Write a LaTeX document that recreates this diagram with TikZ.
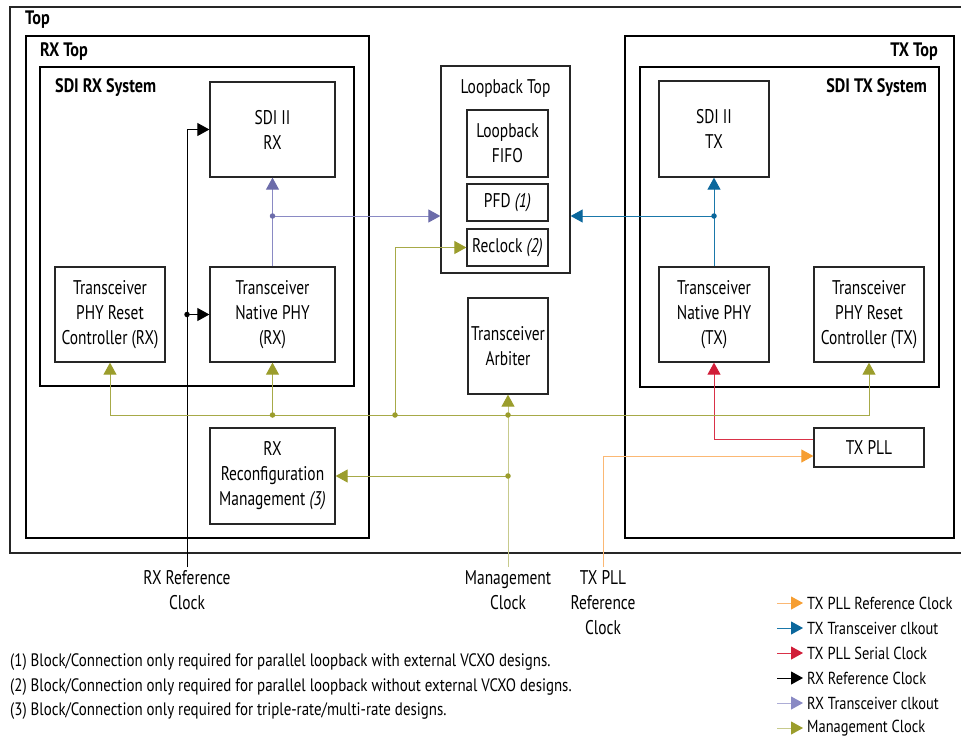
\documentclass[tikz,border=0pt]{standalone}
\usepackage{fontspec}
\setmainfont{PT Sans}[FakeStretch=0.83]
\newfontfamily\narrowfont{PT Sans}[FakeStretch=0.78]
\usetikzlibrary{arrows.meta}

\definecolor{boxline}{HTML}{262626}
\definecolor{puL}{HTML}{8A8AC4}
\definecolor{puH}{HTML}{6C6CAA}
\definecolor{blL}{HTML}{1A78AA}
\definecolor{blH}{HTML}{0B679C}
\definecolor{rdL}{HTML}{D93148}
\definecolor{rdH}{HTML}{D11D38}
\definecolor{orL}{HTML}{FBB874}
\definecolor{orH}{HTML}{F69E32}
\definecolor{olL}{HTML}{A7AA48}
\definecolor{olP}{HTML}{C7CA8C}
\definecolor{olH}{HTML}{9B9D2C}

\newcommand\dfont{\narrowfont\fontsize{19.8}{25}\selectfont}
\newcommand\nfont{\fontsize{18}{25}\selectfont}
\newcommand\lfont{\fontsize{17.4}{25}\selectfont}
\newcommand\tfont{\fontsize{19.5}{25}\selectfont\bfseries}

\tikzset{
  container/.style={draw=black, line width=1.2pt, inner sep=0pt, minimum width=#1},
  block/.style={draw=boxline, line width=1.3pt, fill=white, inner sep=0pt, align=center, font=\dfont},
  title/.style={font=\tfont, inner sep=0pt},
  txt/.style={font=\dfont, inner sep=0pt, align=center},
  note/.style={font=\nfont, inner sep=0pt, anchor=west},
  legendtxt/.style={font=\lfont, inner sep=0pt, anchor=west},
  extlabel/.style={font=\dfont, inner xsep=0pt, inner ysep=3pt, align=center, anchor=north},
  conn/.style={line width=1pt},
  head/.style={-{Triangle[length=12pt,width=13pt,color=#1]}},
  twoheads/.style={{Triangle[length=12pt,width=13pt,color=#1]}-{Triangle[length=12pt,width=13pt,color=#1]}},
  purple/.style={conn, draw=puL, head=puH},
  blue/.style={conn, draw=blL, head=blH},
  red/.style={conn, draw=rdL, head=rdH},
  orange/.style={conn, draw=orL, head=orH},
  olive/.style={conn, draw=olL, head=olH},
  olivepale/.style={conn, draw=olP, head=olH},
  blackclk/.style={conn, draw=black, head=black},
  dot/.style={circle, fill=#1, inner sep=0pt, minimum size=5.5pt},
}

\begin{document}
\begin{tikzpicture}[x=1pt, y=-1pt]
\useasboundingbox (0,0) rectangle (961,742);

% outermost frame (open to the right)
\draw[line width=1.2pt, boxline] (961,7) -- (10,7) -- (10,553) -- (961,553);
\node[title, anchor=west] (toplbl) at (25,20) {Top};

% receive side containers
\node[container=343pt, minimum height=502pt] (rxtop) at (197.5,287) {};
\node[title, anchor=west] (rxtoplbl) at (40,52) {RX Top};
\node[container=314pt, minimum height=319pt] (rxsys) at (197,226.5) {};
\node[title, anchor=west] (rxsyslbl) at (55,88) {SDI RX System};

% transmit side containers
\node[container=329pt, minimum height=502pt] (txtop) at (789.5,287) {};
\node[title, anchor=east] (txtoplbl) at (938,52) {TX Top};
\node[container=299pt, minimum height=320pt] (txsys) at (789.5,227) {};
\node[title, anchor=east] (txsyslbl) at (927,88) {SDI TX System};

% loopback container
\node[block, minimum width=129pt, minimum height=207pt] (lbtop) at (505.5,169.5) {};
\node[txt] (lbtoplbl) at (505.5,89) {Loopback Top};

% receive blocks
\node[block, minimum width=125pt, minimum height=95pt] (sdirx) at (272.5,129.5) {SDI II\\RX};
\node[block, minimum width=110pt, minimum height=95pt] (rstrx) at (110,314.5) {Transceiver\\PHY Reset\\Controller (RX)};
\node[block, minimum width=125pt, minimum height=95pt] (natrx) at (272.5,314.5) {Transceiver\\Native PHY\\(RX)};
\node[block, minimum width=125pt, minimum height=96pt] (reconf) at (272.5,476) {RX\\Reconfiguration\\Management \textit{(3)}};

% loopback blocks
\node[block, minimum width=81pt, minimum height=67pt] (lbfifo) at (507.5,143.5) {Loopback\\FIFO};
\node[block, minimum width=81pt, minimum height=37pt] (pfd) at (507.5,202.5) {PFD \textit{(1)}};
\node[block, minimum width=81pt, minimum height=37pt] (reclk) at (507.5,247.5) {Reclock \textit{(2)}};
\node[block, minimum width=80pt, minimum height=96pt] (arb) at (508,346) {Transceiver\\Arbiter};

% transmit blocks
\node[block, minimum width=110pt, minimum height=96pt] (sditx) at (714,129) {SDI II\\TX};
\node[block, minimum width=110pt, minimum height=95pt] (nattx) at (714,314.5) {Transceiver\\Native PHY\\(TX)};
\node[block, minimum width=110pt, minimum height=95pt] (rsttx) at (869,314.5) {Transceiver\\PHY Reset\\Controller (TX)};
\node[block, minimum width=110pt, minimum height=39pt] (txpll) at (869,447.5) {TX PLL};

% external clock inputs
\node[extlabel] (rxref) at (187,567) {RX Reference\\Clock};
\node[extlabel] (mgclk) at (508,567) {Management\\Clock};
\node[extlabel] (txref) at (603,567) {TX PLL\\Reference\\Clock};

% helper rows
\coordinate (rowck) at (0,216);
\coordinate (rowbus) at (0,415);
\coordinate (rowcfg) at (0,476);
\coordinate (rowser) at (0,439);
\coordinate (rowref) at (0,456);
\coordinate (colrc) at (395,0);

% RX transceiver clkout
\coordinate (jpu) at (natrx.north |- rowck);
\draw[purple] (natrx.north) -- (sdirx.south);
\draw[purple] (jpu) -- (lbtop.west |- rowck);
\node[dot=puH] (jpudot) at (jpu) {};

% TX transceiver clkout
\coordinate (jbl) at (nattx.north |- rowck);
\draw[blue] (nattx.north) -- (sditx.south);
\draw[blue] (jbl) -- (lbtop.east |- rowck);
\node[dot=blH] (jbldot) at (jbl) {};

% TX PLL serial clock and reference clock
\draw[red] (txpll.west |- rowser) -| (nattx.south);
\draw[orange] (txref.north) |- (txpll.west |- rowref);

% RX reference clock
\coordinate (jrx) at (rxref.north |- natrx.west);
\draw[blackclk] (rxref.north) |- (sdirx.west);
\draw[blackclk] (jrx) -- (natrx.west);
\node[dot=black] (jrxdot) at (jrx) {};

% management clock distribution
\coordinate (jbus) at (arb.south |- rowbus);
\coordinate (jcfg) at (arb.south |- rowcfg);
\coordinate (jnat) at (natrx.south |- rowbus);
\coordinate (jrc) at (colrc |- rowbus);
\draw[olivepale] (mgclk.north) -- (arb.south);
\draw[conn, draw=olL, twoheads=olH] (rstrx.south) -- (rstrx.south |- rowbus) -- (rsttx.south |- rowbus) -- (rsttx.south);
\draw[olive] (jnat) -- (natrx.south);
\draw[olive] (jrc) |- (reclk.west);
\draw[olive] (jcfg) -- (reconf.east);
\node[dot=olH] (jnatdot) at (jnat) {};
\node[dot=olH] (jrcdot) at (jrc) {};
\node[dot=olH] (jbusdot) at (jbus) {};
\node[dot=olH] (jcfgdot) at (jcfg) {};

% notes
\node[note] (note1) at (10,662) {(1) Block/Connection only required for parallel loopback with external VCXO designs.};
\node[note] (note2) at (10,687) {(2) Block/Connection only required for parallel loopback without external VCXO designs.};
\node[note] (note3) at (10,711) {(3) Block/Connection only required for triple-rate/multi-rate designs.};

% legend
\node[legendtxt] (lg1) at (807,603) {TX PLL Reference Clock};
\node[legendtxt] (lg2) at (807,628) {TX Transceiver clkout};
\node[legendtxt] (lg3) at (807,653) {TX PLL Serial Clock};
\node[legendtxt] (lg4) at (807,678) {RX Reference Clock};
\node[legendtxt] (lg5) at (807,703) {RX Transceiver clkout};
\node[legendtxt] (lg6) at (807,728) {Management Clock};
\draw[orange] ([xshift=-30pt]lg1.west) -- ([xshift=-4pt]lg1.west);
\draw[blue] ([xshift=-30pt]lg2.west) -- ([xshift=-4pt]lg2.west);
\draw[red] ([xshift=-30pt]lg3.west) -- ([xshift=-4pt]lg3.west);
\draw[blackclk] ([xshift=-30pt]lg4.west) -- ([xshift=-4pt]lg4.west);
\draw[conn, draw=puL!70, head=puL] ([xshift=-30pt]lg5.west) -- ([xshift=-4pt]lg5.west);
\draw[olivepale] ([xshift=-30pt]lg6.west) -- ([xshift=-4pt]lg6.west);
\end{tikzpicture}
\end{document}
